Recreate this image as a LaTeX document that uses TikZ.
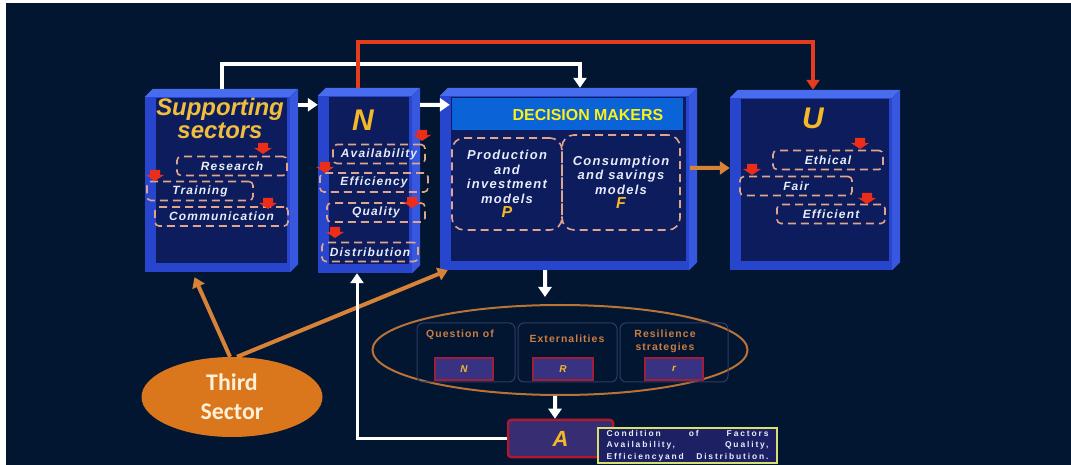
\documentclass[tikz,border=0pt]{standalone}
\usepackage{fontspec}
\setmainfont{Liberation Sans}
\newfontfamily\thirdFont{Carlito}
\newfontfamily\labelFont{Liberation Sans}[LetterSpace=10]
\newfontfamily\noteFont{Liberation Sans}[LetterSpace=22]
\usetikzlibrary{calc}
\usetikzlibrary{positioning}
\usetikzlibrary{shapes.geometric}
\usetikzlibrary{arrows.meta}

\definecolor{bgNavy}{RGB}{2,22,50}
\definecolor{cubeBlue}{RGB}{40,70,205}
\definecolor{cubeLight}{RGB}{72,108,238}
\definecolor{cubeMid}{RGB}{55,88,222}
\definecolor{cubeDark}{RGB}{12,28,92}
\definecolor{headBlue}{RGB}{10,100,215}
\definecolor{headYellow}{RGB}{255,240,20}
\definecolor{titleGold}{RGB}{240,190,60}
\definecolor{letterGold}{RGB}{245,185,40}
\definecolor{dashPeach}{RGB}{225,165,140}
\definecolor{labelWhite}{RGB}{232,236,250}
\definecolor{markRed}{RGB}{235,45,25}
\definecolor{arrowRed}{RGB}{230,60,30}
\definecolor{arrowOrange}{RGB}{215,130,55}
\definecolor{ellOrange}{RGB}{185,115,55}
\definecolor{qLine}{RGB}{45,60,100}
\definecolor{qText}{RGB}{205,125,65}
\definecolor{smallFill}{RGB}{55,50,130}
\definecolor{smallLine}{RGB}{160,30,60}
\definecolor{aFill}{RGB}{55,45,115}
\definecolor{aLine}{RGB}{175,25,45}
\definecolor{condLine}{RGB}{215,225,110}
\definecolor{condFill}{RGB}{30,32,100}
\definecolor{thirdOrange}{RGB}{218,118,28}
\definecolor{thirdText}{RGB}{255,240,215}

\newcommand{\cubeDepth}{8bp}
\newcommand{\modelLetter}{\color{letterGold}\fontsize{16}{16}\selectfont}
\newcommand{\drawCube}[1]{
	\fill[cubeFront] ([yshift=-\cubeDepth]#1.north west) rectangle ([xshift=-\cubeDepth]#1.south east);
	\fill[cubeTop] ([yshift=-\cubeDepth]#1.north west) -- ([xshift=\cubeDepth]#1.north west) -- (#1.north east) -- ([xshift=-\cubeDepth,yshift=-\cubeDepth]#1.north east) -- cycle;
	\fill[cubeSide] ([xshift=-\cubeDepth,yshift=-\cubeDepth]#1.north east) -- (#1.north east) -- ([yshift=\cubeDepth]#1.south east) -- ([xshift=-\cubeDepth]#1.south east) -- cycle;
	\fill[cubeInner] ([xshift=11bp,yshift=-9bp]#1.north west) rectangle ([xshift=-11bp,yshift=9bp]#1.south east);
}

\tikzset{cubeBox/.style = {rectangle, inner sep=0pt}}
\tikzset{cubeFront/.style = {fill=cubeBlue}}
\tikzset{cubeTop/.style = {fill=cubeLight}}
\tikzset{cubeSide/.style = {fill=cubeMid}}
\tikzset{cubeInner/.style = {fill=cubeDark}}
\tikzset{dashBox/.style = {draw=dashPeach, dash pattern=on 8bp off 5bp, line width=1.6bp, rounded corners=4bp, inner sep=0pt, minimum height=19bp, text=labelWhite, font=\labelFont\bfseries\itshape\fontsize{12}{13}\selectfont}}
\tikzset{modelBox/.style = {dashBox, rounded corners=12bp, align=center, font=\labelFont\bfseries\itshape\fontsize{13}{14.5}\selectfont}}
\tikzset{titleText/.style = {text=titleGold, align=center, font=\bfseries\itshape\fontsize{24}{23}\selectfont}}
\tikzset{bigLetter/.style = {text=letterGold, font=\bfseries\itshape\fontsize{30}{30}\selectfont}}
\tikzset{dmHeader/.style = {fill=headBlue, inner sep=0pt}}
\tikzset{headText/.style = {text=headYellow, font=\bfseries\fontsize{16}{16}\selectfont}}
\tikzset{marker/.style = {fill=markRed}}
\tikzset{qBox/.style = {draw=qLine, line width=1bp, rounded corners=6bp, inner sep=0pt}}
\tikzset{qLabel/.style = {text=qText, align=center, font=\labelFont\bfseries\fontsize{10.5}{13}\selectfont}}
\tikzset{smallBox/.style = {fill=smallFill, draw=smallLine, line width=1.5bp, inner sep=0pt, minimum height=22bp, text=letterGold, font=\bfseries\itshape\fontsize{10}{10}\selectfont}}
\tikzset{whiteArrow/.style = {draw=white, line width=4bp, -{Triangle[width=13bp,length=10bp]}}}
\tikzset{redArrow/.style = {draw=arrowRed, line width=4.5bp, -{Triangle[width=13bp,length=10bp]}}}
\tikzset{orangeArrow/.style = {draw=arrowOrange, line width=4bp, -{Triangle[width=13bp,length=10bp]}}}

\begin{document}
\begin{tikzpicture}[x=1bp,y=-1bp]
    \useasboundingbox (0,0) rectangle (1071,465);
    \fill[white] (0,0) rectangle (1071,465);
    \fill[bgNavy] (6,3) rectangle (1071,465);

    % the four boxes
    \node[cubeBox, minimum width=153bp, minimum height=183bp] (sup) at (221.5,180.5) {};
    \node[cubeBox, minimum width=102bp, minimum height=185bp] (nbox) at (369,180.5) {};
    \node[cubeBox, minimum width=257bp, minimum height=182bp] (dm) at (568.5,179) {};
    \node[cubeBox, minimum width=170bp, minimum height=180bp] (ubox) at (815,180) {};
    \foreach \c in {sup,nbox,dm,ubox}
    {
        \drawCube{\c}
    }

    \node[titleText] (supTitle) at (220,118.5) {Supporting\\sectors};
    \node[bigLetter] (nTitle) at (363,120) {N};
    \node[bigLetter] (uTitle) at (813,118) {U};
    \node[dmHeader, minimum width=231bp, minimum height=32bp] (dmHead) at (567.5,114) {};
    \node[headText] (dmTitle) at (588,115) {DECISION MAKERS};

    \foreach \n/\x/\y/\w/\t in {res/232/166/110/Research, trn/200/191/106/Training,
            com/221.5/216.5/133/Communication, avl/379/154/92/Availability,
            eff/374/182.5/108/Efficiency, qlt/376/212.5/98/Quality,
            dst/370/252/96/Distribution, eth/828/160/110/Ethical,
            fai/796/186/112/Fair, efc/831/214/108/Efficient}
    {
        \node[dashBox, minimum width=\w bp] (\n) at (\x,\y) {\t};
    }

    \node[modelBox, minimum width=110bp, minimum height=92bp] (prod) at (507,184)
        {Production\\and\\investment\\models\\{\modelLetter P}};
    \node[modelBox, minimum width=118bp, minimum height=95bp] (cons) at (621,182.5)
        {Consumption\\and savings\\models\\{\modelLetter F}};

    \foreach \mx/\my in {263/148, 155/175, 268/203, 422/135, 325/167,
            412/202, 335/232, 860/143, 752/169, 867/198}
    {
        \fill[marker] (\mx,\my) ++(-5,-5) -- ++(10,0) -- ++(0,5) -- ++(4,0) -- ++(-9,6) -- ++(-9,-6) -- ++(4,0) -- cycle;
    }

    % lower part
    \node[draw=ellOrange, line width=2bp, ellipse, minimum width=375bp, minimum height=90bp] (ell) at (560,350) {};
    \node[qBox, minimum width=98bp, minimum height=59bp] (q1) at (466,352.5) {};
    \node[qBox, minimum width=99bp, minimum height=59bp] (q2) at (567.5,352.5) {};
    \node[qBox, minimum width=108bp, minimum height=59bp] (q3) at (674,352.5) {};
    \node[qLabel] (qLab1) at (460,335) {Question of};
    \node[qLabel] (qLab2) at (567,339) {Externalities};
    \node[qLabel] (qLab3) at (665,341.5) {Resilience\\strategies};
    \node[smallBox, minimum width=58bp] (qN) at (464,369) {N};
    \node[smallBox, minimum width=60bp] (qR) at (563,369) {R};
    \node[smallBox, minimum width=58bp] (qr) at (674,369) {r};

    \node[fill=aFill, draw=aLine, line width=2.5bp, rounded corners=3bp, inner sep=0pt,
        minimum width=105bp, minimum height=37bp, text=letterGold,
        font=\bfseries\itshape\fontsize{22}{22}\selectfont] (abox) at (560.5,438.5) {A};
    \node[fill=condFill, draw=condLine, line width=1.5bp, inner sep=0pt, minimum width=179bp,
        minimum height=35bp, text=labelWhite, font=\noteFont\bfseries\fontsize{8.5}{11.5}\selectfont]
        (cond) at (687.5,445.5) {\parbox{162bp}{Condition\hfill of\hfill Factors\\
        Availability,\hfill Quality,\\ Efficiencyand\hfill Distribution.}};

    \node[ellipse, fill=thirdOrange, minimum width=181bp, minimum height=80bp, align=center,
        text=thirdText, font=\thirdFont\bfseries\fontsize{24}{29}\selectfont] (third) at (232,397) {Third\\Sector};

    % connectors
    \draw[orangeArrow] ([xshift=-2bp]third.north) -- ([xshift=-27bp,yshift=-5bp]sup.south);
    \draw[orangeArrow] ([xshift=5bp]third.north) -- ([xshift=8bp]dm.south west);
    \draw[orangeArrow] ([xshift=-7bp,yshift=11bp]dm.east) -- ([yshift=12bp]ubox.west);
    \draw[whiteArrow] ([yshift=-16bp]sup.north east) -- ([yshift=-17bp]nbox.north west);
    \draw[whiteArrow] ([yshift=-17bp]nbox.north east) -- ([xshift=10bp,yshift=-17bp]dm.north west);
    \draw[whiteArrow] (sup.north) -- ++(0,-25) -| ([xshift=11.5bp]dm.north);
    \draw[redArrow] ([xshift=-11bp]nbox.north) -- ++(0,-46) -| ([xshift=-2bp]ubox.north);
    \draw[whiteArrow] ([xshift=-23.5bp]dm.south) -- ([xshift=-15bp,yshift=7bp]ell.north);
    \draw[whiteArrow] ([xshift=-5bp]ell.south) -- ([xshift=-5.5bp]abox.north);
    \draw[whiteArrow, line width=3bp] (abox.west) -| ([xshift=-12bp]nbox.south);
\end{tikzpicture}
\end{document}
